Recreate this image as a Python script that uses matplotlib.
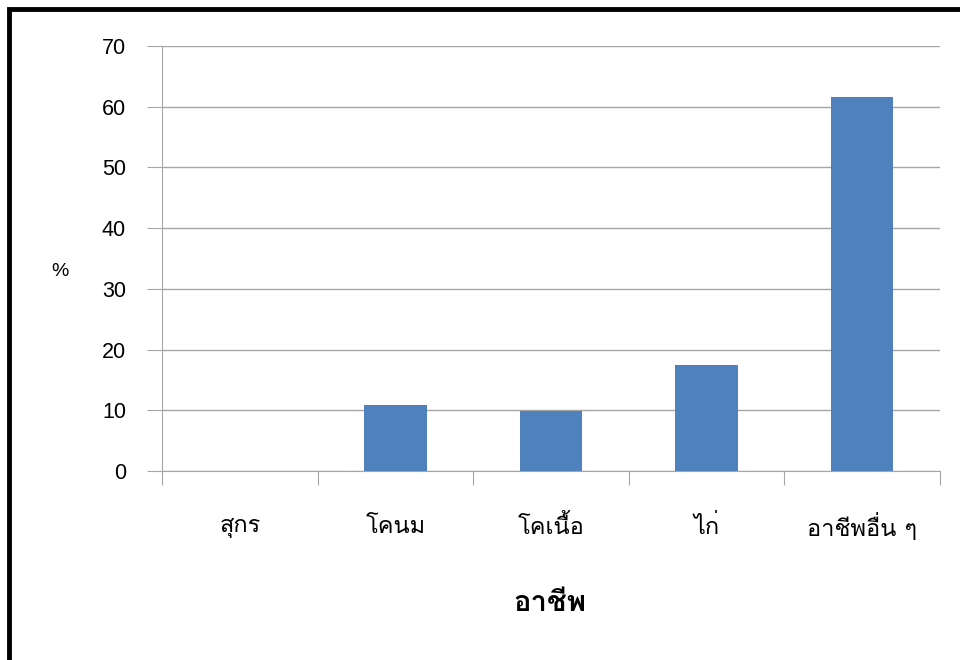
import matplotlib
matplotlib.use("Agg")
import matplotlib.pyplot as plt
from matplotlib import font_manager
from matplotlib.ft2font import FT2Font
from matplotlib.patches import Rectangle

# === Data ===
categories = ["สุกร", "โคนม", "โคเนื้อ", "ไก่", "อาชีพอื่น ๆ"]
percent = [0, 10.8, 9.9, 17.4, 61.6]
y_ticks = [0, 10, 20, 30, 40, 50, 60, 70]


# === Find a font that has Thai glyphs ===
def find_thai_font():
    preferred = []
    others = []
    for f in font_manager.fontManager.ttflist:
        try:
            ft = FT2Font(f.fname)
            if ft.get_char_index(ord("ก")) and ft.get_char_index(ord("ๆ")):
                if "thai" in f.name.lower() or "loma" in f.name.lower():
                    preferred.append(f.name)
                else:
                    others.append(f.name)
        except Exception:
            pass
    names = preferred + others
    return names[0] if names else None


thai = find_thai_font()
families = ([thai] if thai else []) + ["DejaVu Sans"]
plt.rcParams["font.family"] = families
latin = ["Liberation Sans", "DejaVu Sans"]

# === Plot ===
fig = plt.figure(figsize=(9.6, 6.6), dpi=100)
ax = fig.add_axes([162 / 960, 1 - 471 / 660, (940 - 162) / 960, (471 - 46) / 660])

x = list(range(len(categories)))
ax.bar(x, percent, width=0.4, color="#4F81BD", zorder=3)

ax.set_xlim(-0.5, len(categories) - 0.5)
ax.set_ylim(0, 70)
ax.set_yticks(y_ticks)
ax.set_yticklabels([str(v) for v in y_ticks], family=latin, fontsize=15.5)
ax.yaxis.grid(True, color="#A6A6A6", linewidth=1, zorder=0)
ax.tick_params(axis="y", length=11, color="#A6A6A6", pad=15)

# category boundary ticks below the axis
ax.set_xticks([i - 0.5 for i in range(len(categories) + 1)])
ax.set_xticklabels([])
ax.tick_params(axis="x", length=10, color="#A6A6A6", direction="out")
for i, name in enumerate(categories):
    ax.text(i, -9.2, name, ha="center", va="center", fontsize=17)

for side in ["top", "right"]:
    ax.spines[side].set_visible(False)
ax.spines["left"].set_color("#A6A6A6")
ax.spines["bottom"].set_color("#A6A6A6")

fig.text(60 / 960, 1 - 271 / 660, "%", ha="center", va="center",
         fontsize=14, family=latin)
fig.text(550 / 960, 1 - 603 / 660, "อาชีพ", ha="center", va="center",
         fontsize=21, fontweight="bold")

# === Outer frame (left and top edges) ===
fig.patches.append(Rectangle((8.5 / 960, -0.1), 1.2, 1.1 - 9 / 660,
                             transform=fig.transFigure, fill=False,
                             edgecolor="black", linewidth=3.5))

fig.savefig("out.png", dpi=100)
